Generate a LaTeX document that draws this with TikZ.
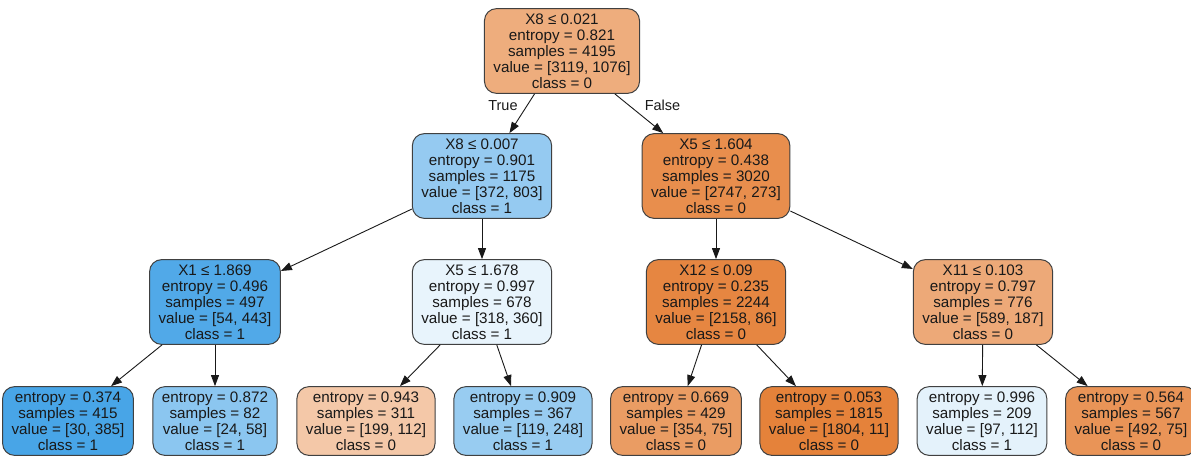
\documentclass[tikz,border=0pt]{standalone}
\usepackage{fontspec}
\setmainfont{Liberation Sans}
\usetikzlibrary{arrows.meta}
% fill colours, one per node
\definecolor{rootc}{RGB}{238,173,125}
\definecolor{lac}{RGB}{149,202,241}
\definecolor{lbc}{RGB}{232,142,77}
\definecolor{laac}{RGB}{81,169,232}
\definecolor{labc}{RGB}{232,244,252}
\definecolor{lbac}{RGB}{230,134,65}
\definecolor{lbbc}{RGB}{237,169,120}
\definecolor{leafac}{RGB}{72,165,231}
\definecolor{leafbc}{RGB}{139,198,240}
\definecolor{leafcc}{RGB}{244,200,168}
\definecolor{leafdc}{RGB}{152,204,241}
\definecolor{leafec}{RGB}{234,156,99}
\definecolor{leaffc}{RGB}{229,130,58}
\definecolor{leafgc}{RGB}{228,242,251}
\definecolor{leafhc}{RGB}{233,148,87}
\begin{document}
\begin{tikzpicture}[x=1pt,y=-1pt,
  box/.style={draw=black!75,line width=1pt,rounded corners=12pt,align=center,
    inner xsep=9pt,inner ysep=5pt,text=black!90,
    font=\fontsize{15.2}{16}\selectfont},
  edge/.style={draw=black!90,line width=0.9pt,-{Triangle[length=11pt,width=8pt]}},
  lab/.style={inner sep=0pt,text=black!90,font=\fontsize{14.5}{16}\selectfont}]
\useasboundingbox (0,0) rectangle (1191,456);
% level 0 and 1
\node[box,fill=rootc] (root) at (562,51) {X8 ≤ 0.021\\entropy = 0.821\\samples = 4195\\value = [3119, 1076]\\class = 0};
\node[box,fill=lac] (la) at (482,176) {X8 ≤ 0.007\\entropy = 0.901\\samples = 1175\\value = [372, 803]\\class = 1};
\node[box,fill=lbc] (lb) at (716,176) {X5 ≤ 1.604\\entropy = 0.438\\samples = 3020\\value = [2747, 273]\\class = 0};
% level 2
\node[box,fill=laac] (laa) at (215,302) {X1 ≤ 1.869\\entropy = 0.496\\samples = 497\\value = [54, 443]\\class = 1};
\node[box,fill=labc] (lab) at (482,302) {X5 ≤ 1.678\\entropy = 0.997\\samples = 678\\value = [318, 360]\\class = 1};
\node[box,fill=lbac] (lba) at (716,302) {X12 ≤ 0.09\\entropy = 0.235\\samples = 2244\\value = [2158, 86]\\class = 0};
\node[box,fill=lbbc] (lbb) at (983,302) {X11 ≤ 0.103\\entropy = 0.797\\samples = 776\\value = [589, 187]\\class = 0};
% leaves
\node[box,fill=leafac] (leafa) at (68,421) {entropy = 0.374\\samples = 415\\value = [30, 385]\\class = 1};
\node[box,fill=leafbc] (leafb) at (215,421) {entropy = 0.872\\samples = 82\\value = [24, 58]\\class = 1};
\node[box,fill=leafcc] (leafc) at (366,421) {entropy = 0.943\\samples = 311\\value = [199, 112]\\class = 0};
\node[box,fill=leafdc] (leafd) at (523,421) {entropy = 0.909\\samples = 367\\value = [119, 248]\\class = 1};
\node[box,fill=leafec] (leafe) at (676,421) {entropy = 0.669\\samples = 429\\value = [354, 75]\\class = 0};
\node[box,fill=leaffc] (leaff) at (829,421) {entropy = 0.053\\samples = 1815\\value = [1804, 11]\\class = 0};
\node[box,fill=leafgc] (leafg) at (982,421) {entropy = 0.996\\samples = 209\\value = [97, 112]\\class = 1};
\node[box,fill=leafhc] (leafh) at (1131,421) {entropy = 0.564\\samples = 567\\value = [492, 75]\\class = 0};
% connectors
\draw[edge] (root) -- node[lab,pos=.3,left=9pt]{True} (la);
\draw[edge] (root) -- node[lab,pos=.3,right=15pt]{False} (lb);
\draw[edge] (la) -- (laa);
\draw[edge] (la) -- (lab);
\draw[edge] (lb) -- (lba);
\draw[edge] (lb) -- (lbb);
\draw[edge] (laa) -- (leafa);
\draw[edge] (laa) -- (leafb);
\draw[edge] (lab) -- (leafc);
\draw[edge] (lab) -- (leafd);
\draw[edge] (lba) -- (leafe);
\draw[edge] (lba) -- (leaff);
\draw[edge] (lbb) -- (leafg);
\draw[edge] (lbb) -- (leafh);
\end{tikzpicture}
\end{document}
